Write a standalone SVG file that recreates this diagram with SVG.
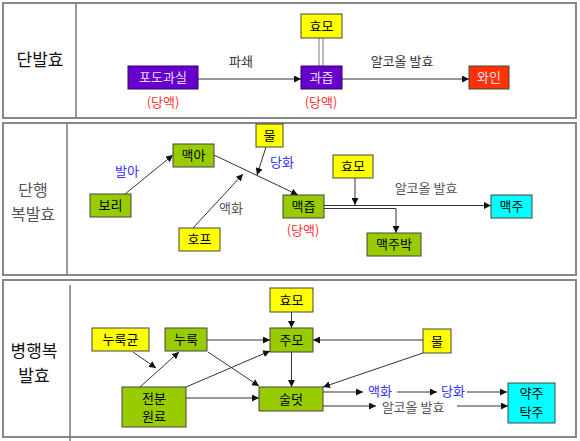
<svg xmlns="http://www.w3.org/2000/svg" width="580" height="441" viewBox="0 0 580 441">
<style>
text{font-family:"Noto Sans CJK KR","Liberation Sans",sans-serif;text-anchor:middle}
.panel{fill:#fff;stroke:#888;stroke-width:2}
.div{stroke:#777;stroke-width:1.5}
.box{stroke:#444;stroke-width:1}
.pur{fill:#6600CC;stroke:#330066}
.grn{fill:#99CC00}
.yel{fill:#FFFF00}
.cyn{fill:#00FFFF}
.red{fill:#FF3300}
.t{font-size:13px;fill:#000}
.tw{font-size:13px;fill:#E8DDFF}
.lbl{font-size:13px;fill:#333}
.gry{font-size:13px;fill:#555}
.blu{font-size:13px;fill:#3333FF}
.sug{font-size:13px;fill:#FF3333}
.title{font-size:17px;fill:#111}
.title2{font-size:16px;fill:#555}
.c{stroke:#333;stroke-width:1;fill:none}
.ca{stroke:#333;stroke-width:1;fill:none;marker-end:url(#ah)}
.dbl{stroke:#777;stroke-width:1;fill:none}
</style>
<defs>
<marker id="ah" viewBox="0 0 10 10" refX="10" refY="5" markerWidth="7" markerHeight="7" markerUnits="userSpaceOnUse" orient="auto">
<path d="M0,0 L10,5 L0,10 z" fill="#111"/>
</marker>
</defs>
<g id="panels">
<rect class="panel" x="3" y="3" width="573" height="115"/>
<line class="div" x1="76" y1="3" x2="76" y2="118"/>
<rect class="panel" x="3" y="123" width="573" height="152"/>
<line class="div" x1="67" y1="123" x2="67" y2="275"/>
<rect class="panel" x="3" y="280" width="573" height="157"/>
<line class="div" x1="70" y1="285" x2="70" y2="441"/>
<text class="title" x="40" y="66">단발효</text>
<text class="title2" x="33" y="196">단행</text>
<text class="title2" x="33" y="220">복발효</text>
<text class="title" x="34" y="357">병행복</text>
<text class="title" x="34" y="382">발효</text>
</g>
<g id="connectors">
<line class="ca" x1="198" y1="79" x2="301" y2="79"/>
<line class="ca" x1="342" y1="79" x2="469" y2="79"/>
<line class="dbl" x1="319" y1="38" x2="319" y2="66"/>
<line class="dbl" x1="323" y1="38" x2="323" y2="66"/>
<line class="ca" x1="125" y1="194" x2="173" y2="155"/>
<line class="ca" x1="214" y1="155" x2="298" y2="195"/>
<line class="ca" x1="266" y1="147" x2="257" y2="175"/>
<line class="ca" x1="193" y1="228" x2="243" y2="174"/>
<line class="ca" x1="355" y1="178" x2="355" y2="205"/>
<line class="ca" x1="324" y1="205.5" x2="491" y2="205.5"/>
<polyline class="ca" points="324,208.5 396,208.5 396,233"/>
<line class="ca" x1="291.5" y1="312" x2="291.5" y2="328"/>
<line class="ca" x1="207" y1="340" x2="270" y2="340"/>
<line class="ca" x1="423" y1="340" x2="313" y2="340"/>
<line class="ca" x1="291.5" y1="352" x2="291.5" y2="387"/>
<line class="ca" x1="133" y1="352" x2="156" y2="368"/>
<line class="ca" x1="140" y1="387" x2="179" y2="352"/>
<line class="ca" x1="208" y1="352" x2="259" y2="386"/>
<line class="ca" x1="186" y1="387" x2="270" y2="351"/>
<line class="ca" x1="186" y1="398" x2="259" y2="398"/>
<line class="ca" x1="423" y1="353" x2="323" y2="387"/>
<line class="ca" x1="323" y1="392" x2="363" y2="392"/>
<line class="ca" x1="397" y1="392" x2="437" y2="392"/>
<line class="ca" x1="467" y1="392" x2="507" y2="392"/>
<line class="ca" x1="323" y1="406" x2="376" y2="406"/>
<line class="ca" x1="457" y1="406" x2="508" y2="406"/>
</g>
<g id="labels">
<text class="lbl" x="241" y="66">파쇄</text>
<text class="lbl" x="402" y="66">알코올 발효</text>
<text class="sug" x="163" y="107">(당액)</text>
<text class="sug" x="321" y="107">(당액)</text>
<text class="blu" x="127" y="176">발아</text>
<text class="blu" x="282" y="167">당화</text>
<text class="gry" x="231" y="213">액화</text>
<text class="gry" x="426" y="193">알코올 발효</text>
<text class="sug" x="303" y="235">(당액)</text>
<text class="blu" x="380" y="396">액화</text>
<text class="blu" x="453" y="396">당화</text>
<text class="gry" x="413" y="412">알코올 발효</text>
</g>
<g id="n-podo"><rect class="box pur" x="128" y="66" width="70" height="23"/><text class="tw" x="163" y="82">포도과실</text></g>
<g id="n-gwajeup"><rect class="box pur" x="301" y="66" width="41" height="23"/><text class="tw" x="321.5" y="82">과즙</text></g>
<g id="n-hyomo1"><rect class="box yel" x="301" y="14" width="41" height="24"/><text class="t" x="321.5" y="31">효모</text></g>
<g id="n-wine"><rect class="box red" x="469" y="66" width="40" height="23"/><text class="tw" x="489" y="82">와인</text></g>
<g id="n-bori"><rect class="box grn" x="90" y="194" width="41" height="23"/><text class="t" x="110.5" y="210">보리</text></g>
<g id="n-maega"><rect class="box grn" x="173" y="144" width="41" height="23"/><text class="t" x="193.5" y="160">맥아</text></g>
<g id="n-mul1"><rect class="box yel" x="256" y="124" width="27" height="23"/><text class="t" x="269.5" y="140">물</text></g>
<g id="n-hop"><rect class="box yel" x="179" y="228" width="41" height="23"/><text class="t" x="199.5" y="244">호프</text></g>
<g id="n-maekjeup"><rect class="box grn" x="283" y="195" width="41" height="23"/><text class="t" x="303.5" y="211">맥즙</text></g>
<g id="n-hyomo2"><rect class="box yel" x="333" y="155" width="40" height="23"/><text class="t" x="353" y="171">효모</text></g>
<g id="n-maekjubak"><rect class="box grn" x="367" y="233" width="54" height="23"/><text class="t" x="394" y="249">맥주박</text></g>
<g id="n-maekju"><rect class="box cyn" x="491" y="195" width="41" height="23"/><text class="t" x="511.5" y="211">맥주</text></g>
<g id="n-hyomo3"><rect class="box yel" x="270" y="288" width="43" height="24"/><text class="t" x="291.5" y="305">효모</text></g>
<g id="n-nurukgyun"><rect class="box yel" x="92" y="328" width="57" height="23"/><text class="t" x="120.5" y="344">누룩균</text></g>
<g id="n-nuruk"><rect class="box grn" x="165" y="328" width="42" height="23"/><text class="t" x="186" y="344">누룩</text></g>
<g id="n-jumo"><rect class="box grn" x="270" y="328" width="43" height="24"/><text class="t" x="291.5" y="345">주모</text></g>
<g id="n-mul2"><rect class="box yel" x="423" y="329" width="28" height="24"/><text class="t" x="437" y="346">물</text></g>
<g id="n-jeonbun"><rect class="box grn" x="122" y="387" width="64" height="40"/><text class="t" x="154" y="403">전분</text><text class="t" x="154" y="421">원료</text></g>
<g id="n-suldeot"><rect class="box grn" x="259" y="387" width="64" height="24"/><text class="t" x="291" y="404">술덧</text></g>
<g id="n-yakju"><rect class="box cyn" x="508" y="383" width="47" height="40"/><text class="t" x="531.5" y="398">약주</text><text class="t" x="531.5" y="417">탁주</text></g>
</svg>
